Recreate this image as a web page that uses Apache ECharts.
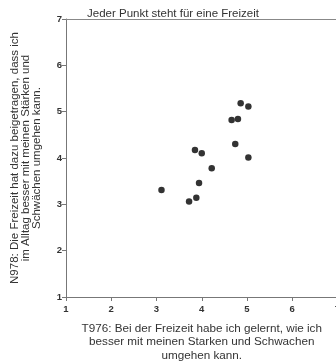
<!DOCTYPE html>
<html><head><meta charset="utf-8">
<script src="https://cdn.jsdelivr.net/npm/echarts@6/dist/echarts.min.js"></script>
<style>html,body{margin:0;padding:0;background:#fff}#c{width:336px;height:361px}</style>
</head><body><div id="c"></div>
<script>
var titleText = 'Jeder Punkt steht für eine Freizeit';
var xName = 'T976: Bei der Freizeit habe ich gelernt, wie ich\nbesser mit meinen Starken und Schwachen\numgehen kann.';
var yName = 'N978: Die Freizeit hat dazu beigetragen, dass ich\nim Alltag besser mit meinen Stärken und\nSchwächen umgehen kann.';
var xTicks = [1, 2, 3, 4, 5, 6, 7];
var yTicks = [1, 2, 3, 4, 5, 6, 7];
var xValues = [3.11, 3.72, 3.88, 3.94, 3.85, 4.00, 4.22, 4.74, 5.03, 4.66, 4.80, 4.86, 5.03];
var yValues = [3.31, 3.06, 3.14, 3.46, 4.17, 4.10, 3.78, 4.30, 4.01, 4.82, 4.84, 5.18, 5.11];

var points = xValues.map(function (x, i) { return [x, yValues[i]]; });
var font = 'Liberation Sans, Arial, sans-serif';
var chart = echarts.init(document.getElementById('c'));
chart.setOption({
  animation: false,
  title: { text: titleText, left: 82, top: 3, textStyle: { fontFamily: font, fontSize: 11.5, fontWeight: 'normal', color: '#333' } },
  grid: { left: 66, top: 19, width: 271.5, height: 278, outerBoundsMode: 'none', containLabel: false },
  xAxis: [{
    type: 'value', min: xTicks[0], max: xTicks[xTicks.length - 1], interval: 1,
    name: xName, nameLocation: 'middle', nameGap: 25,
    nameTextStyle: { fontFamily: font, fontSize: 11.7, color: '#333', lineHeight: 13.5 },
    axisLine: { lineStyle: { color: '#777', width: 1 } },
    axisTick: { length: 4, lineStyle: { color: '#777' } },
    axisLabel: { fontFamily: font, fontSize: 9.5, fontWeight: 'bold', color: '#333', margin: 7, showMaxLabel: true },
    splitLine: { show: false }
  }, {
    type: 'value', position: 'top', min: xTicks[0], max: xTicks[xTicks.length - 1],
    axisLine: { show: true, lineStyle: { color: '#888', width: 1 } },
    axisTick: { show: false }, axisLabel: { show: false }, splitLine: { show: false }
  }],
  yAxis: {
    type: 'value', min: yTicks[0], max: yTicks[yTicks.length - 1], interval: 1,
    name: yName, nameLocation: 'middle', nameGap: 24,
    nameTextStyle: { fontFamily: font, fontSize: 11.5, color: '#333', lineHeight: 11 },
    axisLine: { show: true, lineStyle: { color: '#777', width: 1 } },
    axisTick: { show: true, length: 4, lineStyle: { color: '#777' } },
    axisLabel: { fontFamily: font, fontSize: 9.5, fontWeight: 'bold', color: '#333', margin: 4 },
    splitLine: { show: false }
  },
  series: [{
    type: 'scatter', data: points, symbolSize: 6.5,
    itemStyle: { color: '#000' }
  }]
});
</script></body></html>
